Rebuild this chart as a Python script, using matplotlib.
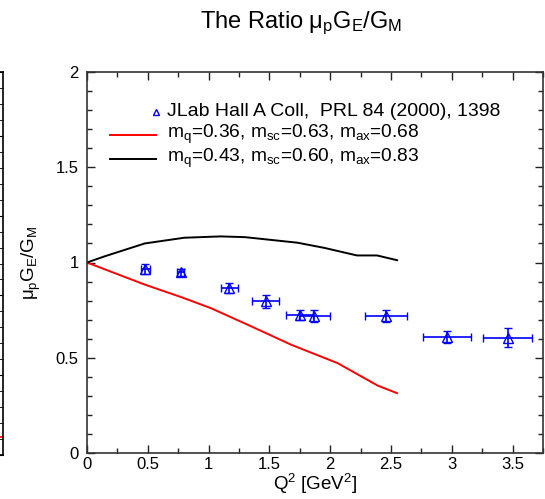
import numpy as np
import matplotlib
matplotlib.use("Agg")
import matplotlib.pyplot as plt
from matplotlib.ticker import MultipleLocator

plt.rcParams['font.family'] = ['Liberation Sans', 'DejaVu Sans']
plt.rcParams['mathtext.fontset'] = 'custom'
plt.rcParams['mathtext.rm'] = 'Liberation Sans'
plt.rcParams['mathtext.it'] = 'Liberation Sans'
plt.rcParams['mathtext.bf'] = 'Liberation Sans:bold'

# JLab Hall A data
q2_data = [0.48, 0.77, 1.17, 1.47, 1.75, 1.87, 2.46, 2.96, 3.46]
ratio_data = [0.966, 0.949, 0.867, 0.796, 0.725, 0.720, 0.720, 0.608, 0.604]
ratio_err = [0.024, 0.018, 0.026, 0.033, 0.026, 0.030, 0.030, 0.033, 0.050]
q2_err = [0.04, 0.03, 0.07, 0.11, 0.11, 0.13, 0.17, 0.20, 0.20]

# model curve 1 (red)
q2_red = [0.0, 0.475, 0.776, 1.02, 1.35, 1.68, 2.06, 2.39, 2.55]
ratio_red = [1.0, 0.884, 0.818, 0.76, 0.665, 0.568, 0.472, 0.354, 0.314]

# model curve 2 (black)
q2_black = [0.0, 0.148, 0.475, 0.80, 1.10, 1.30, 1.73, 1.95, 2.22, 2.385, 2.55]
ratio_black = [1.0, 1.033, 1.10, 1.13, 1.137, 1.133, 1.104, 1.077, 1.037, 1.037, 1.012]

# neighbouring panel tail (left sliver)
side_x = [0.95, 1.0]
side_y = [0.11, 0.11]

W, H = 545, 499
fig = plt.figure(figsize=(W / 100, H / 100), dpi=100)

L, R, T, B = 87, 543, 72, 453
ax = fig.add_axes([L / W, 1 - B / H, (R - L) / W, (B - T) / H])
ax.set_xlim(0, 3.75)
ax.set_ylim(0, 2)

ax.plot(q2_red, ratio_red, color='#ff0000', lw=1.4)
ax.plot(q2_black, ratio_black, color='black', lw=1.4)
ax.errorbar(q2_data, ratio_data, yerr=ratio_err, xerr=q2_err, fmt='^',
            mfc='none', mec='#0000ff', ms=7, mew=1.0, ecolor='#0000ff',
            elinewidth=1.2, capsize=3, capthick=1.2, zorder=5)

ax.xaxis.set_major_locator(MultipleLocator(0.5))
ax.xaxis.set_minor_locator(MultipleLocator(0.25))
ax.yaxis.set_major_locator(MultipleLocator(0.5))
ax.yaxis.set_minor_locator(MultipleLocator(0.1))
ax.xaxis.set_major_formatter(matplotlib.ticker.FuncFormatter(lambda v, p: f"{v:g}"))
ax.yaxis.set_major_formatter(matplotlib.ticker.FuncFormatter(lambda v, p: f"{v:g}"))
ax.tick_params(which='both', direction='in', top=True, right=True, width=1.0, color='#222222')
ax.tick_params(which='major', length=6, labelsize=12, pad=3)
ax.tick_params(which='minor', length=3.5)
ax.tick_params(axis='y', which='major', pad=6)
for s in ax.spines.values():
    s.set_linewidth(1.2)
    s.set_color('#333333')

ax.set_xlabel(r'Q$^2$ [GeV$^2$]', fontsize=13.5, labelpad=0)
ax.set_ylabel(r'$\mu_p$G$_E$/G$_M$', fontsize=13.5)
ax.yaxis.set_label_coords((43 - L) / (R - L), 0.5)

fig.text(301 / W, 1 - 28 / H, r'The Ratio $\mu_p$G$_E$/G$_M$', fontsize=17,
         ha='center', va='baseline')

# legend drawn manually (axes-pixel positions)
def px(x, y):
    return ((x - L) / (R - L), (B - y) / (B - T))

lx0, lx1, tx = 110, 156, 167
ys = [111.5, 134.5, 158.5]
ax.plot(*px(156, ys[0]), marker='^', mfc='none', mec='#0000ff', ms=5, mew=1.0,
        transform=ax.transAxes, clip_on=False)
ax.plot([px(lx0, ys[1])[0], px(lx1, ys[1])[0]], [px(0, ys[1])[1]] * 2,
        color='#ff0000', lw=1.4, transform=ax.transAxes)
ax.plot([px(lx0, ys[2])[0], px(lx1, ys[2])[0]], [px(0, ys[2])[1]] * 2,
        color='black', lw=1.4, transform=ax.transAxes)
labels = ['JLab Hall A Coll,  PRL 84 (2000), 1398',
          r'm$_q$=0.36, m$_{sc}$=0.63, m$_{ax}$=0.68',
          r'm$_q$=0.43, m$_{sc}$=0.60, m$_{ax}$=0.83']
sizes = [14, 13.8, 13.8]
for y, lab, fs in zip(ys, labels, sizes):
    ax.text(*px(tx, y), lab, transform=ax.transAxes, fontsize=fs,
            ha='left', va='center')

# left sliver of the neighbouring panel
ax2 = fig.add_axes([-0.2, 1 - 455 / H, 0.2 + 2.5 / W, (455 - 72) / H])
ax2.set_xlim(0, 1)
ax2.set_ylim(0, 2.4)
ax2.plot(side_x, side_y, color='#ff0000', lw=1.2)
ax2.yaxis.set_major_locator(MultipleLocator(0.5))
ax2.yaxis.set_minor_locator(MultipleLocator(0.1))
ax2.tick_params(which='both', direction='in', left=False, right=True,
                labelleft=False, labelright=False, bottom=False, labelbottom=False)
ax2.tick_params(which='major', length=6)
ax2.tick_params(which='minor', length=3.5)
for s in ax2.spines.values():
    s.set_linewidth(1.2)

fig.savefig('out.png', dpi=100)
